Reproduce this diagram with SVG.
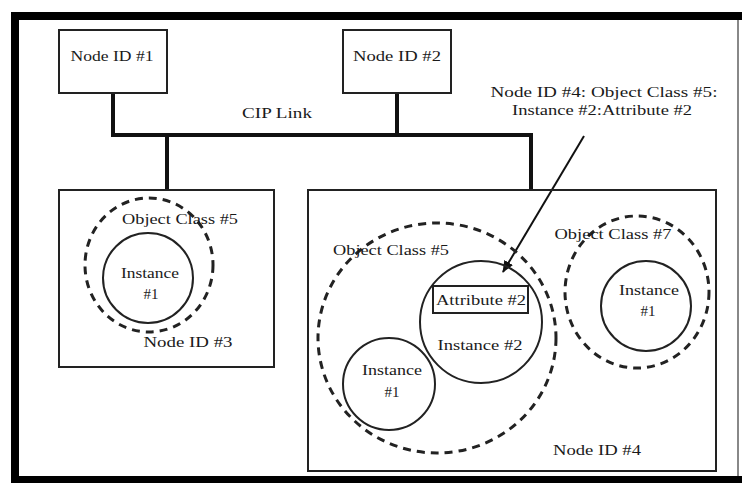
<svg xmlns="http://www.w3.org/2000/svg" width="742" height="483" viewBox="0 0 742 483" font-family="'Liberation Serif', 'Times New Roman', serif">
<defs>
<style>
text{font-family:"Liberation Serif","Times New Roman",serif;font-size:15px;fill:#1a1a1a;text-anchor:middle}
.box{fill:none;stroke:#222;stroke-width:2}
.bus{fill:none;stroke:#111;stroke-width:4}
.inst{fill:none;stroke:#222;stroke-width:2}
.cls{fill:none;stroke:#222;stroke-width:3;stroke-dasharray:8 6}
</style>
<marker id="ah" markerWidth="12" markerHeight="10" refX="11" refY="5" orient="auto" markerUnits="userSpaceOnUse">
<path d="M0,0 L12,5 L0,10 Z" fill="#111"/>
</marker>
</defs>
<rect x="0" y="0" width="742" height="483" fill="#fff"/>
<g id="frame">
<rect x="11" y="12" width="731" height="8" fill="#000"/>
<rect x="11" y="12" width="8" height="471" fill="#000"/>
<rect x="11" y="476" width="731" height="7" fill="#000"/>
<line x1="738" y1="20" x2="738" y2="476" stroke="#888" stroke-width="2"/>
</g>
<g id="connectors">
<polyline class="bus" points="113,93 113,135 531,135 531,190"/>
<line class="bus" x1="397" y1="93" x2="397" y2="135"/>
<line class="bus" x1="167" y1="135" x2="167" y2="190"/>
<line x1="584" y1="136" x2="503" y2="272" stroke="#111" stroke-width="2" marker-end="url(#ah)"/>
</g>
<g id="cip-link"><text x="277" y="118" textLength="70" lengthAdjust="spacingAndGlyphs">CIP Link</text></g>
<g id="label">
<text x="604" y="97" textLength="227" lengthAdjust="spacingAndGlyphs">Node ID #4: Object Class #5:</text>
<text x="602" y="115" textLength="180" lengthAdjust="spacingAndGlyphs">Instance #2:Attribute #2</text>
</g>
<g id="node1">
<rect class="box" x="59" y="30" width="108" height="63"/>
<text x="112" y="61" textLength="83" lengthAdjust="spacingAndGlyphs">Node ID #1</text>
</g>
<g id="node2">
<rect class="box" x="343" y="30" width="108" height="63"/>
<text x="397" y="61" textLength="88" lengthAdjust="spacingAndGlyphs">Node ID #2</text>
</g>
<g id="node3">
<rect class="box" x="59" y="190" width="215" height="177"/>
<text x="188" y="347" textLength="89" lengthAdjust="spacingAndGlyphs">Node ID #3</text>
<g id="node3-class5">
<ellipse class="cls" cx="149" cy="265" rx="64" ry="67"/>
<text x="180" y="224" textLength="116" lengthAdjust="spacingAndGlyphs">Object Class #5</text>
</g>
<g id="node3-instance1">
<circle class="inst" cx="148" cy="278" r="45"/>
<text x="150" y="278" textLength="58" lengthAdjust="spacingAndGlyphs">Instance</text>
<text x="151" y="299">#1</text>
</g>
</g>
<g id="node4">
<rect class="box" x="308" y="190" width="408" height="281"/>
<text x="597" y="455" textLength="88" lengthAdjust="spacingAndGlyphs">Node ID #4</text>
<g id="node4-class5">
<ellipse class="cls" cx="437" cy="338" rx="119" ry="115"/>
<text x="391" y="255" textLength="116" lengthAdjust="spacingAndGlyphs">Object Class #5</text>
</g>
<g id="node4-instance2">
<circle class="inst" cx="481" cy="322" r="61"/>
<rect class="box" x="433" y="286" width="95" height="27"/>
<text x="481" y="305" textLength="90" lengthAdjust="spacingAndGlyphs">Attribute #2</text>
<text x="480" y="350" textLength="85" lengthAdjust="spacingAndGlyphs">Instance #2</text>
</g>
<g id="node4-instance1">
<circle class="inst" cx="389" cy="384" r="46"/>
<text x="392" y="375" textLength="60" lengthAdjust="spacingAndGlyphs">Instance</text>
<text x="392" y="397">#1</text>
</g>
<g id="node4-class7">
<ellipse class="cls" cx="637" cy="292" rx="72" ry="76"/>
<text x="613" y="239" textLength="117" lengthAdjust="spacingAndGlyphs">Object Class #7</text>
</g>
<g id="node4-class7-instance1">
<circle class="inst" cx="646" cy="306" r="45"/>
<text x="649" y="295" textLength="60" lengthAdjust="spacingAndGlyphs">Instance</text>
<text x="648" y="316">#1</text>
</g>
</g>
</svg>
